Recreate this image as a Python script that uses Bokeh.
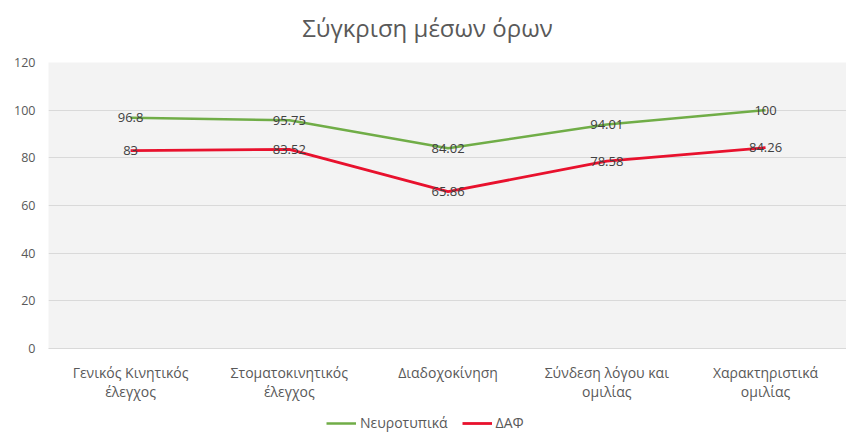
from bokeh.plotting import figure
from bokeh.layouts import column
from bokeh.models import Range1d, Legend, LegendItem, ColumnDataSource, FixedTicker, Label
from bokeh.core.properties import value
from bokeh.embed import file_html
from bokeh.resources import INLINE

title_text = "Σύγκριση μέσων όρων"
categories = ["Γενικός Κινητικός έλεγχος", "Στοματοκινητικός έλεγχος", "Διαδοχοκίνηση",
              "Σύνδεση λόγου και ομιλίας", "Χαρακτηριστικά ομιλίας"]
tick_labels = ["Γενικός Κινητικός\nέλεγχος", "Στοματοκινητικός\nέλεγχος", "Διαδοχοκίνηση",
               "Σύνδεση λόγου και\nομιλίας", "Χαρακτηριστικά\nομιλίας"]
neurotypical = [96.8, 95.75, 84.02, 94.01, 100]
daf = [83, 83.52, 65.86, 78.58, 84.26]
series_names = ["Νευροτυπικά", "ΔΑΦ"]
y_ticks = [0, 20, 40, 60, 80, 100, 120]

FONT = "Open Sans"
GRAY = "#595959"
GREEN = "#70ad47"
RED = "#e8112d"

xs = list(range(len(categories)))

# title strip (its frame is aligned with the chart frame, which starts 48px in)
tf = figure(width=846, height=48, x_range=Range1d(0, 1), y_range=Range1d(0, 1),
            output_backend="svg", toolbar_location=None,
            x_axis_location=None, y_axis_location=None,
            min_border_left=0, min_border_right=0, min_border_top=0, min_border_bottom=0)
tf.grid.grid_line_color = None
tf.outline_line_color = None
tf.background_fill_color = "white"
tf.add_layout(Label(x=379, y=21, x_units="screen", y_units="screen", text=title_text,
                    text_align="center", text_baseline="middle", text_font=FONT,
                    text_font_size="24px", text_color=GRAY))

p = figure(width=846, height=364, x_range=Range1d(-0.517, len(categories) - 0.49), y_range=Range1d(0, 120),
           output_backend="svg", toolbar_location=None,
           min_border_left=48, min_border_right=0, min_border_top=14, min_border_bottom=64)

p.background_fill_color = "#f3f3f3"
p.border_fill_color = "white"
p.outline_line_color = None

p.ygrid.grid_line_color = "#d9d9d9"
p.xgrid.grid_line_color = None
p.yaxis.ticker = FixedTicker(ticks=y_ticks)
p.yaxis.axis_line_color = None
p.yaxis.major_tick_line_color = None
p.yaxis.minor_tick_line_color = None
p.yaxis.major_tick_out = 0
p.yaxis.major_label_text_font = FONT
p.yaxis.major_label_text_font_size = "12.5px"
p.yaxis.major_label_text_color = GRAY
p.yaxis.major_label_standoff = 13

p.xaxis.ticker = FixedTicker(ticks=xs)
p.xaxis.axis_line_color = "#d9d9d9"
p.xaxis.major_tick_line_color = None
p.xaxis.minor_tick_line_color = None
p.xaxis.major_tick_out = 0
p.xaxis.major_tick_in = 0
p.xaxis.major_label_text_font = FONT
p.xaxis.major_label_text_font_size = "14px"
p.xaxis.major_label_text_color = GRAY
p.xaxis.major_label_text_line_height = 1.0
p.xaxis.major_label_standoff = 14
p.xaxis.major_label_overrides = {i: t for i, t in zip(xs, tick_labels)}

src = ColumnDataSource(dict(x=xs, n=neurotypical, d=daf,
                            nl=[f"{v:g}" for v in neurotypical], dl=[f"{v:g}" for v in daf]))

r1 = p.line("x", "n", source=src, line_color=GREEN, line_width=2.5)
r2 = p.line("x", "d", source=src, line_color=RED, line_width=2.8)

p.text("x", "n", text="nl", source=src, text_align="center", text_baseline="middle",
       text_font=value(FONT), text_font_size="13px", text_color="#404040")
p.text("x", "d", text="dl", source=src, text_align="center", text_baseline="middle",
       text_font=value(FONT), text_font_size="13px", text_color="#404040")

# legend strip below the chart (series drawn off-range so only the legend shows)
lg = figure(width=846, height=22, x_range=Range1d(-100, -99), y_range=Range1d(0, 1),
            output_backend="svg", toolbar_location=None,
            x_axis_location=None, y_axis_location=None,
            min_border_left=0, min_border_right=0, min_border_top=0, min_border_bottom=0)
lg.grid.grid_line_color = None
lg.outline_line_color = None
lg.background_fill_color = "white"
l1 = lg.line(x=xs, y=neurotypical, line_color=GREEN, line_width=2.5)
l2 = lg.line(x=xs, y=daf, line_color=RED, line_width=2.8)

legend = Legend(items=[LegendItem(label=series_names[0], renderers=[l1]),
                       LegendItem(label=series_names[1], renderers=[l2])],
                orientation="horizontal", location=(278, 2),
                label_text_font=FONT, label_text_font_size="14px", label_text_color=GRAY,
                border_line_color=None, background_fill_alpha=0,
                glyph_width=30, glyph_height=14, label_height=14, padding=2, margin=0, spacing=14,
                label_standoff=4)
lg.add_layout(legend, "center")

layout = column(tf, p, lg, spacing=0)
open("out.html", "w").write(file_html(layout, INLINE))
